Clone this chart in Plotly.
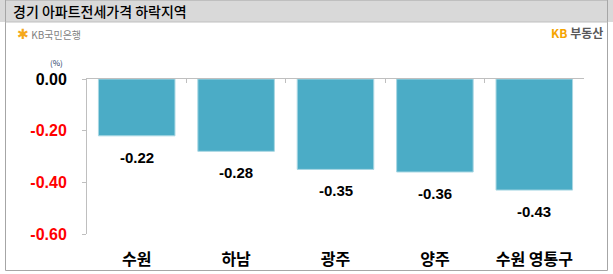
import plotly.graph_objects as go

# Gyeonggi regions with the largest weekly drop in apartment jeonse prices (%)
regions = ["수원", "하남", "광주", "양주", "수원 영통구"]
changes = [-0.22, -0.28, -0.35, -0.36, -0.43]

tick_values = [0.0, -0.2, -0.4, -0.6]
tick_labels = ["0.00", "-0.20", "-0.40", "-0.60"]
tick_colors = ["#000000", "#ff0000", "#ff0000", "#ff0000"]

W, H = 613, 274
ML, MR, MT, MB = 87, 29, 79, 40
PW, PH = W - ML - MR, H - MT - MB

KR = "Noto Sans CJK KR"
NUM = "Liberation Sans"
BAR = "#4bacc6"


def px(x):
    return (x - ML) / PW


def py(y):
    return (H - MB - y) / PH


fig = go.Figure()
fig.add_trace(go.Bar(
    x=regions, y=changes, width=0.77,
    marker=dict(color=BAR, line=dict(color="#a9d7e3", width=1)),
    hoverinfo="skip",
))
# invisible trace so the top category axis (zero line with boundary ticks) is drawn
fig.add_trace(go.Scatter(x=regions, y=[0] * len(regions), xaxis="x2",
                         mode="markers", marker=dict(opacity=0), hoverinfo="skip"))

for r, v in zip(regions, changes):
    fig.add_annotation(x=r, y=v, text=f"{v:.2f}", showarrow=False,
                       yanchor="top", yshift=-11,
                       font=dict(family=NUM, size=15, color="#000000", weight="bold"))

fig.update_layout(
    width=W, height=H,
    margin=dict(l=ML, r=MR, t=MT, b=MB, autoexpand=False),
    paper_bgcolor="white", plot_bgcolor="rgba(0,0,0,0)",
    showlegend=False, bargap=0.23,
    font=dict(family=KR),
    xaxis=dict(range=[-0.5, 4.5], showline=False, ticks="", showgrid=False,
               zeroline=False, automargin=False,
               tickfont=dict(family=KR, size=16, color="#000000", weight="bold"),
               ticklabelstandoff=14),
    xaxis2=dict(overlaying="x", matches="x", side="top", anchor="y",
                showline=True, linecolor="#bfbfbf", linewidth=1, automargin=False,
                ticks="inside", tickson="boundaries", ticklen=4, tickcolor="#bfbfbf",
                showticklabels=False, showgrid=False, zeroline=False),
    yaxis=dict(range=[-0.6, 0], tickvals=tick_values,
               ticktext=[f"<span style='color:{c}'>{t}</span>" for t, c in zip(tick_labels, tick_colors)],
               tickfont=dict(family=NUM, size=16, weight="bold"),
               showline=True, linecolor="#bfbfbf", linewidth=1, automargin=False,
               ticks="outside", ticklen=4, tickcolor="#bfbfbf",
               showgrid=False, zeroline=False, ticklabelstandoff=12),
)

shapes = [
    # title band
    dict(type="rect", xref="paper", yref="paper", x0=px(0), x1=px(W), y0=py(0), y1=py(22),
         fillcolor="#d9d9d9", line=dict(width=0), layer="below"),
    # outer frame
    dict(type="rect", xref="paper", yref="paper", x0=px(5.5), x1=px(607.5), y0=py(0), y1=py(270.5),
         fillcolor="rgba(0,0,0,0)", line=dict(color="#a6a6a6", width=1), layer="below"),
    dict(type="line", xref="paper", yref="paper", x0=px(5.5), x1=px(607.5), y0=py(22), y1=py(22),
         line=dict(color="#bfbfbf", width=1), layer="below"),
]
fig.update_layout(shapes=shapes)

fig.add_annotation(xref="paper", yref="paper", x=px(11), y=py(11), xanchor="left", yanchor="middle",
                   text="경기 아파트전세가격 하락지역", showarrow=False,
                   font=dict(family=KR, size=14, color="#000000", weight=500))
fig.add_annotation(xref="paper", yref="paper", x=px(15), y=py(33), xanchor="left", yanchor="middle",
                   text="<span style='color:#f5a81c;font-size:14px'>✱</span> KB국민은행", showarrow=False,
                   font=dict(family=KR, size=10, color="#7f7f7f"))
fig.add_annotation(xref="paper", yref="paper", x=px(605), y=py(32), xanchor="right", yanchor="middle",
                   text="<span style='color:#f5a400'>KB</span> 부동산", showarrow=False,
                   font=dict(family=KR, size=12, color="#595959", weight="bold"))
fig.add_annotation(xref="paper", yref="paper", x=px(56), y=py(63), xanchor="center", yanchor="middle",
                   text="(%)", showarrow=False,
                   font=dict(family=KR, size=8, color="#203864"))

fig.write_html("out.html")
